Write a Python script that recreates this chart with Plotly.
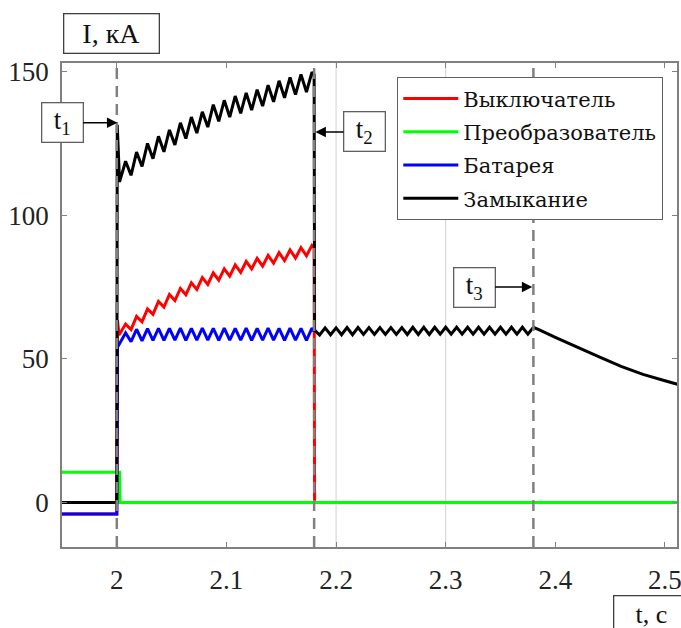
import plotly.graph_objects as go

# ---------------- data ----------------
series_names = ["Выключатель", "Преобразователь", "Батарея", "Замыкание"]
series_colors = ["#ff0000", "#00ff00", "#0000ff", "#000000"]

x_tick_vals = [2.0, 2.1, 2.2, 2.3, 2.4, 2.5]
x_tick_text = ["2", "2.1", "2.2", "2.3", "2.4", "2.5"]
y_tick_vals = [0, 50, 100, 150]
y_tick_text = ["0", "50", "100", "150"]

# event times t1, t2, t3 (s)
event_times = [2.0, 2.18, 2.38]
event_labels = ["t<sub>1</sub>", "t<sub>2</sub>", "t<sub>3</sub>"]
event_arrow_values = [132.2, 129.0, 75.0]   # kA level where the arrows point
event_arrow_times = [2.0005, 2.1812, 2.3790]

# shared ripple sample times between t1 and t2
t_ripple = [2.008, 2.013, 2.018, 2.023, 2.028, 2.033, 2.038, 2.043, 2.048, 2.053,
            2.058, 2.063, 2.068, 2.073, 2.078, 2.083, 2.088, 2.093, 2.098, 2.103,
            2.108, 2.113, 2.118, 2.123, 2.128, 2.133, 2.138, 2.143, 2.148, 2.153,
            2.158, 2.163, 2.168, 2.173, 2.178]

# Выключатель (breaker)
breaker_t_pre = [1.95, 2.0, 2.0006, 2.002]
breaker_i_pre = [-4.0, -4.0, 63.5, 58.3]
breaker_i_ripple = [62.1, 60.2, 64.8, 62.9, 67.4, 65.5, 70.0, 68.0, 72.4, 70.3,
                    74.5, 72.3, 76.5, 74.2, 78.3, 75.9, 79.9, 77.4, 81.3, 78.8,
                    82.7, 80.1, 83.9, 81.3, 85.0, 82.3, 86.0, 83.3, 87.0, 84.2,
                    87.9, 85.1, 88.7, 85.9, 89.5]
breaker_t_post = [2.1800, 2.1804, 2.512]
breaker_i_post = [88.5, 0.0, 0.0]

# Преобразователь (converter)
converter_t = [1.95, 2.0025, 2.0030, 2.512]
converter_i = [10.5, 10.5, 0.0, 0.0]

# Батарея (battery)
battery_t_pre = [1.95, 2.0, 2.0006]
battery_i_pre = [-4.0, -4.0, 54.0]
battery_i_ripple = [59.0, 56.0, 60.3, 56.3, 60.5, 56.4, 60.6, 56.4, 60.6, 56.5,
                    60.7, 56.4, 60.6, 56.5, 60.7, 56.5, 60.6, 56.4, 60.7, 56.5,
                    60.6, 56.5, 60.7, 56.4, 60.6, 56.5, 60.7, 56.5, 60.6, 56.4,
                    60.7, 56.5, 60.6, 56.4, 60.7]
battery_t_post = [2.18]
battery_i_post = [59.5]

# Замыкание (short circuit)
fault_t_pre = [1.95, 2.0, 2.0004, 2.0025]
fault_i_pre = [0.0, 0.0, 131.5, 111.6]
fault_i_ripple = [118.8, 113.9, 122.0, 117.0, 125.0, 119.7, 127.5, 122.1, 129.7, 124.5,
                  132.2, 126.7, 134.2, 128.6, 136.0, 130.7, 138.5, 132.7, 140.0, 134.2,
                  141.5, 135.5, 142.6, 136.6, 143.7, 138.0, 145.3, 139.5, 146.8, 140.9,
                  148.0, 142.0, 149.0, 142.9, 149.8]
fault_t_drop = [2.1800, 2.1804]
fault_i_drop = [149.0, 60.0]
fault_t_hold = [2.185, 2.190, 2.195, 2.200, 2.205, 2.210, 2.215, 2.220, 2.225, 2.230,
                2.235, 2.240, 2.245, 2.250, 2.255, 2.260, 2.265, 2.270, 2.275, 2.280,
                2.285, 2.290, 2.295, 2.300, 2.305, 2.310, 2.315, 2.320, 2.325, 2.330,
                2.335, 2.340, 2.345, 2.350, 2.355, 2.360, 2.365, 2.370, 2.375, 2.380]
fault_i_hold = [58.3, 60.8, 58.4, 60.8, 58.4, 60.9, 58.4, 60.9, 58.5, 60.9,
                58.5, 60.9, 58.5, 60.9, 58.5, 60.9, 58.5, 61.0, 58.5, 61.0,
                58.5, 61.0, 58.6, 61.0, 58.6, 61.0, 58.6, 61.0, 58.6, 61.0,
                58.6, 61.0, 58.6, 61.0, 58.6, 61.0, 58.6, 61.0, 58.6, 61.0]
fault_t_decay = [2.385, 2.400, 2.420, 2.440, 2.460, 2.480, 2.500, 2.512]
fault_i_decay = [60.2, 57.5, 54.0, 50.7, 47.4, 44.6, 42.4, 41.1]

grid_x = [2.2, 2.3]

# ---------------- figure ----------------
breaker_t = breaker_t_pre + t_ripple + breaker_t_post
breaker_i = breaker_i_pre + breaker_i_ripple + breaker_i_post
battery_t = battery_t_pre + t_ripple + battery_t_post
battery_i = battery_i_pre + battery_i_ripple + battery_i_post
fault_t = fault_t_pre + t_ripple + fault_t_drop + fault_t_hold + fault_t_decay
fault_i = fault_i_pre + fault_i_ripple + fault_i_drop + fault_i_hold + fault_i_decay

xs = [breaker_t, converter_t, battery_t, fault_t]
ys = [breaker_i, converter_i, battery_i, fault_i]

fig = go.Figure()
for name, col, x, y in zip(series_names, series_colors, xs, ys):
    fig.add_trace(go.Scatter(x=x, y=y, mode="lines", name=name, legendgroup=name,
                             line=dict(color=col, width=3)))

AX = "#808080"
W, H = 681, 628          # figure size (page margin removed below)
PW, PH = 615, 484        # plot area size (px)
L, T = 62, 63            # plot area top-left


def px_x(px):  # window pixel x -> paper x
    return (px - L) / PW


def px_y(py):  # window pixel y -> paper y
    return 1 - (py - T) / PH


# light grid lines
for gx in grid_x:
    fig.add_shape(type="line", xref="x", yref="paper", x0=gx, x1=gx, y0=0, y1=1,
                  line=dict(color="#d0d0d0", width=1), layer="below")
# dashed event lines
for et in event_times:
    fig.add_shape(type="line", xref="x", yref="paper", x0=et, x1=et, y0=0, y1=1,
                  line=dict(color=AX, width=2.5, dash="11px,7px"), layer="above")

# event labels with arrows
label_offsets = [-55, 49, -58]
for lab, at, av, off in zip(event_labels, event_arrow_times, event_arrow_values, label_offsets):
    fig.add_annotation(x=at, y=av, xref="x", yref="y", text=lab, showarrow=True,
                       ax=off, ay=0, arrowhead=2, arrowsize=1.3, arrowwidth=1.6,
                       arrowcolor="#000000", bgcolor="white", bordercolor="#606060",
                       borderwidth=1.3, width=38, height=36,
                       font=dict(family="Liberation Serif", size=27, color="#111"))

# axis title boxes
fig.add_annotation(x=px_x(63), y=px_y(13), xref="paper", yref="paper",
                   text="I, кА", showarrow=False, xanchor="left", yanchor="top",
                   bgcolor="white", bordercolor="#404040", borderwidth=1.3,
                   width=92, height=36,
                   font=dict(family="Liberation Serif", size=28, color="#111"))
fig.add_annotation(x=px_x(613), y=px_y(595), xref="paper", yref="paper",
                   text="t, c", showarrow=False, xanchor="left", yanchor="top",
                   bgcolor="white", bordercolor="#404040", borderwidth=1.3,
                   width=72, height=34,
                   font=dict(family="Liberation Serif", size=26, color="#111"))

axis_common = dict(ticks="inside", ticklen=5, tickwidth=1, tickcolor=AX,
                   showline=True, linecolor=AX, linewidth=1.5, mirror="ticks",
                   showgrid=False, zeroline=False, automargin=False,
                   ticklabeloverflow="allow",
                   tickfont=dict(family="Liberation Serif", size=27, color="#222"))

fig.update_layout(
    width=W, height=H,
    margin=dict(l=L, r=W - L - PW, t=T, b=H - T - PH, autoexpand=False),
    paper_bgcolor="white", plot_bgcolor="white",
    xaxis=dict(range=[1.95, 2.511], tickvals=x_tick_vals, ticktext=x_tick_text,
               ticklabelstandoff=8, **axis_common),
    yaxis=dict(range=[-15.5, 153], tickvals=y_tick_vals, ticktext=y_tick_text,
               ticklabelstandoff=6, **axis_common),
    legend=dict(x=px_x(397), y=px_y(77), xanchor="left", yanchor="top",
                bgcolor="white", bordercolor="#606060", borderwidth=1.3,
                font=dict(family="DejaVu Serif", size=21, color="#111"),
                tracegroupgap=3, itemwidth=55),
    showlegend=True,
)

fig.write_html("out.html",
               config={"displayModeBar": False},
               post_script="document.body.style.margin='0';"
                           "document.body.style.overflow='hidden';")
